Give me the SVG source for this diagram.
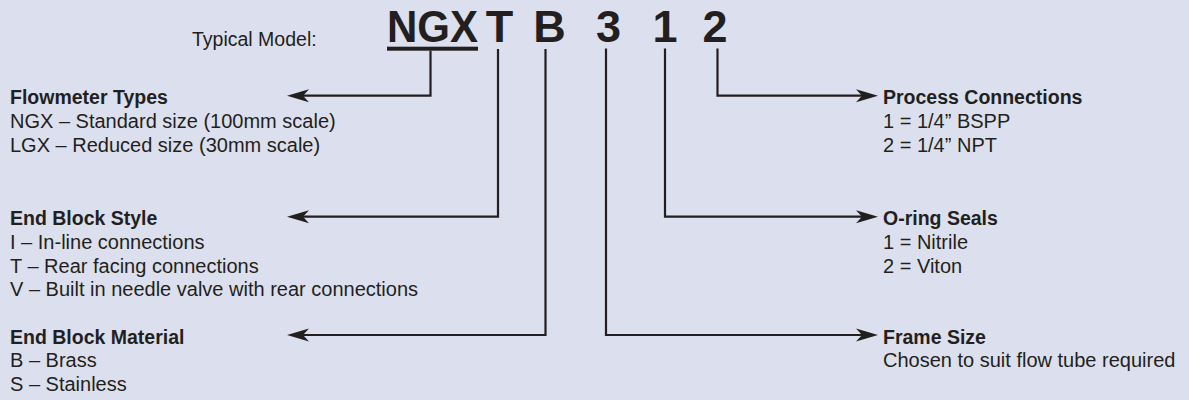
<svg xmlns="http://www.w3.org/2000/svg" width="1189" height="400" viewBox="0 0 1189 400">
<style>
text { font-family: "Liberation Sans", Arial, sans-serif; fill: #231f20; }
.code { font-size: 45px; font-weight: bold; text-anchor: middle; }
.title { font-size: 19.5px; }
.h { font-size: 19.5px; font-weight: bold; }
.t { font-size: 20px; }
.conn { fill: none; stroke: #231f20; stroke-width: 2.2; stroke-linejoin: miter; }
</style>
<defs>
<marker id="arr" viewBox="-11 -7 24 14" markerWidth="24" markerHeight="14" refX="0" refY="0" orient="auto" markerUnits="userSpaceOnUse">
<path d="M12,0 L-10,-6.5 L-4,0 L-10,6.5 Z" fill="#231f20"/>
</marker>
</defs>
<rect x="0" y="0" width="1189" height="400" fill="#dcdfed"/>

<g id="title">
<text class="title" x="192" y="45.5">Typical Model:</text>
</g>

<g id="code-ngx">
<text class="code" x="432.5" y="42" textLength="91" lengthAdjust="spacingAndGlyphs">NGX</text>
<rect x="387" y="46.7" width="91" height="4" fill="#231f20"/>
</g>
<g id="code-t"><text class="code" x="499.5" y="42">T</text></g>
<g id="code-b"><text class="code" x="549.5" y="42">B</text></g>
<g id="code-3"><text class="code" x="608.5" y="42">3</text></g>
<g id="code-1"><text class="code" x="665" y="42">1</text></g>
<g id="code-2"><text class="code" x="715" y="42">2</text></g>

<g id="connectors">
<path class="conn" d="M430.5,50.7 V95.7 H299" marker-end="url(#arr)"/>
<path class="conn" d="M498,49 V216.7 H299" marker-end="url(#arr)"/>
<path class="conn" d="M545.5,49 V335 H299" marker-end="url(#arr)"/>
<path class="conn" d="M606,48.5 V335 H866" marker-end="url(#arr)"/>
<path class="conn" d="M665,48.5 V216.7 H866" marker-end="url(#arr)"/>
<path class="conn" d="M717.5,48.5 V95.7 H866" marker-end="url(#arr)"/>
</g>

<g id="flowmeter-types">
<text class="h" x="10" y="104.3">Flowmeter Types</text>
<text class="t" x="10" y="128">NGX – Standard size (100mm scale)</text>
<text class="t" x="10" y="151.7">LGX – Reduced size (30mm scale)</text>
</g>

<g id="end-block-style">
<text class="h" x="10" y="225.3">End Block Style</text>
<text class="t" x="10" y="249">I – In-line connections</text>
<text class="t" x="10" y="272.7">T – Rear facing connections</text>
<text class="t" x="10" y="296.4">V – Built in needle valve with rear connections</text>
</g>

<g id="end-block-material">
<text class="h" x="10" y="343.6">End Block Material</text>
<text class="t" x="10" y="367.3">B – Brass</text>
<text class="t" x="10" y="391">S – Stainless</text>
</g>

<g id="process-connections">
<text class="h" x="883" y="104.3">Process Connections</text>
<text class="t" x="883" y="128">1 = 1/4” BSPP</text>
<text class="t" x="883" y="151.7">2 = 1/4” NPT</text>
</g>

<g id="o-ring-seals">
<text class="h" x="883" y="225.3">O-ring Seals</text>
<text class="t" x="883" y="249">1 = Nitrile</text>
<text class="t" x="883" y="272.7">2 = Viton</text>
</g>

<g id="frame-size">
<text class="h" x="883" y="343.6">Frame Size</text>
<text class="t" x="883" y="367.3">Chosen to suit flow tube required</text>
</g>
</svg>
